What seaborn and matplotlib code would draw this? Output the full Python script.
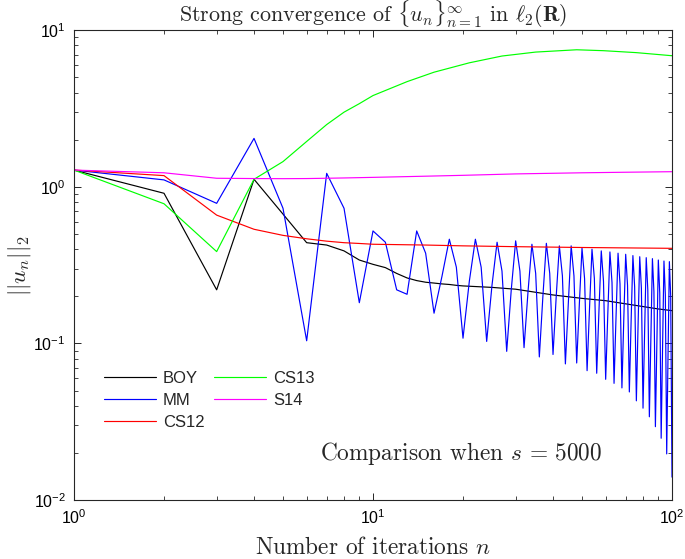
import numpy as np
import pandas as pd
import matplotlib
matplotlib.use("Agg")
import matplotlib.pyplot as plt
import seaborn as sns

# ---------------- data ----------------
n_all = list(range(1, 101))

mm_vals = [1.28, 1.108, 0.785, 2.04, 0.73, 0.104, 1.22, 0.73, 0.182, 0.523,
           0.443, 0.22, 0.206, 0.523, 0.377, 0.156, 0.267, 0.463, 0.307, 0.108,
           0.25, 0.463, 0.307, 0.103, 0.235, 0.443, 0.29, 0.089, 0.22, 0.452,
           0.29, 0.094, 0.215, 0.43, 0.28, 0.082, 0.2, 0.436, 0.28, 0.085,
           0.2, 0.42, 0.27, 0.074, 0.18, 0.42, 0.27, 0.075, 0.18, 0.406,
           0.26, 0.067, 0.17, 0.40, 0.26, 0.0645, 0.165, 0.39, 0.25, 0.059,
           0.155, 0.384, 0.245, 0.0556, 0.15, 0.377, 0.24, 0.052, 0.145, 0.371,
           0.235, 0.049, 0.14, 0.364, 0.23, 0.043, 0.13, 0.358, 0.225, 0.0386,
           0.12, 0.353, 0.22, 0.034, 0.11, 0.348, 0.215, 0.0294, 0.10, 0.341,
           0.21, 0.0248, 0.095, 0.336, 0.205, 0.0197, 0.085, 0.333, 0.2, 0.014]

boy_n = [1, 2, 3, 4, 5, 6, 7, 8, 9, 10, 11, 12, 13, 14, 15, 16, 17, 18, 19, 20,
         25, 30, 40, 50, 60, 70, 80, 90, 100]
boy_vals = [1.28, 0.91, 0.22, 1.118, 0.67, 0.44, 0.425, 0.39, 0.341, 0.32,
            0.305, 0.28, 0.262, 0.252, 0.246, 0.243, 0.24, 0.238, 0.235, 0.233,
            0.228, 0.222, 0.204, 0.194, 0.1875, 0.179, 0.172, 0.166, 0.162]

cs12_n = [1, 2, 3, 4, 5, 6, 7, 8, 9, 10, 15, 20, 30, 50, 100]
cs12_vals = [1.28, 1.18, 0.66, 0.536, 0.49, 0.466, 0.45, 0.44, 0.435, 0.43,
             0.425, 0.42, 0.415, 0.41, 0.405]

cs13_n = [1, 2, 3, 4, 5, 6, 7, 8, 9, 10, 13, 16, 21, 27, 35, 48, 59, 76, 100]
cs13_vals = [1.28, 0.78, 0.386, 1.118, 1.45, 1.95, 2.5, 3.0, 3.4, 3.83,
             4.7, 5.4, 6.2, 6.85, 7.26, 7.51, 7.41, 7.2, 6.88]

s14_n = [1, 2, 3, 4, 5, 6, 7, 8, 10, 15, 20, 30, 50, 70, 100]
s14_vals = [1.28, 1.23, 1.135, 1.13, 1.128, 1.13, 1.135, 1.14, 1.15, 1.17,
            1.185, 1.21, 1.23, 1.24, 1.25]

series_names = ["BOY", "MM", "CS12", "CS13", "S14"]
series_colors = ["black", "#0000ff", "#ff0000", "#00ff00", "#ff00ff"]

# ---------------- style ----------------
sns.set_style("white")
plt.rcParams["font.family"] = ["Liberation Sans", "DejaVu Sans"]
plt.rcParams["mathtext.fontset"] = "custom"
plt.rcParams["mathtext.rm"] = "Liberation Sans"
plt.rcParams["mathtext.it"] = "Liberation Sans:italic"
plt.rcParams["mathtext.bf"] = "Liberation Sans:bold"

fig = plt.figure(figsize=(6.85, 5.59), dpi=100)
ax = fig.add_axes([74 / 685, 1 - 500 / 559, (672 - 74) / 685, (500 - 30.3) / 559])

data = [(boy_n, boy_vals), (n_all, mm_vals), (cs12_n, cs12_vals),
        (cs13_n, cs13_vals), (s14_n, s14_vals)]
for (xs, ys), name, col in zip(data, series_names, series_colors):
    df = pd.DataFrame({"n": xs, "val": ys})
    sns.lineplot(data=df, x="n", y="val", color=col, lw=0.85, label=name,
                 ax=ax, estimator=None, sort=False)

ax.set_xscale("log")
ax.set_yscale("log")
ax.set_xlim(1, 100)
ax.set_ylim(1e-2, 1e1)

for s in ax.spines.values():
    s.set_color("#262626")
    s.set_linewidth(0.8)

ax.tick_params(which="both", direction="in", top=True, right=True,
               colors="#262626", labelcolor="black")
ax.tick_params(which="major", length=5, width=0.7, labelsize=11.5, pad=6)
ax.tick_params(which="minor", length=3, width=0.6)
ax.tick_params(axis="both", which="both", bottom=True, left=True)

serif = dict(fontfamily="cmr10", math_fontfamily="cm")
fs = 16.8
ax.set_title(r"Strong convergence of $\{u_n\}_{n=1}^{\infty}$ in $\ell_2(\mathbf{R})$",
             fontsize=15.8, pad=0.5, **serif)
ax.set_xlabel(r"Number of iterations $n$", fontsize=fs, labelpad=7, **serif)
ax.set_ylabel(r"$||u_n||_2$", fontsize=fs, labelpad=0, **serif)

ax.text(0.648, 0.1, r"Comparison when $s\,=\,5000$", transform=ax.transAxes,
        ha="center", va="center", fontsize=fs, **serif)

leg = ax.legend(loc="upper left", bbox_to_anchor=(0.025, 0.306), ncol=2,
                frameon=False, fontsize=12, handlelength=3.1,
                handletextpad=0.45, columnspacing=0.55, labelspacing=0.42)

fig.savefig("out.png", dpi=100)
